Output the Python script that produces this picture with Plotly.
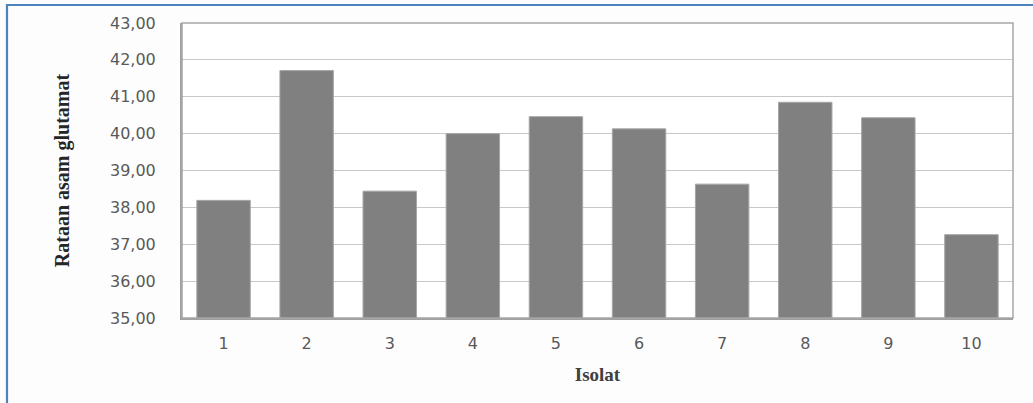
import plotly.graph_objects as go

categories = ["1", "2", "3", "4", "5", "6", "7", "8", "9", "10"]
values = [38.19, 41.71, 38.44, 40.00, 40.46, 40.13, 38.63, 40.85, 40.43, 37.26]
y_ticks = [35, 36, 37, 38, 39, 40, 41, 42, 43]
y_tick_labels = ["35,00", "36,00", "37,00", "38,00", "39,00", "40,00", "41,00", "42,00", "43,00"]

W, H = 1033, 403
L, R, T, B = 182, 20, 23, 85
pw, ph = W - L - R, H - T - B

def px(x):
    return (x - L) / pw

def py(y):
    return (H - B - y) / ph

fig = go.Figure(
    go.Bar(
        x=categories,
        y=values,
        marker=dict(color="#808080", line=dict(color="#a6a6a6", width=1)),
    )
)

fig.update_layout(
    width=W,
    height=H,
    margin=dict(l=L, r=R, t=T, b=B, autoexpand=False),
    paper_bgcolor="#fdfdfd",
    plot_bgcolor="#ffffff",
    bargap=0.357,
    showlegend=False,
    shapes=[
        dict(
            type="rect", xref="paper", yref="paper",
            x0=px(7), x1=px(1045), y0=py(5), y1=py(420),
            line=dict(color="#4f81bd", width=2.2), layer="below",
        ),
        dict(
            type="rect", xref="paper", yref="paper",
            x0=0, x1=1, y0=0, y1=1,
            line=dict(color="#a6a6a6", width=1.5), layer="above",
        ),
    ],
)

fig.update_xaxes(
    type="category",
    tickfont=dict(family="DejaVu Sans", size=16, color="#595959"),
    ticks="",
    ticklabelstandoff=10,
    showline=True, linecolor="#a0a0a0", linewidth=2,
    title=dict(
        text="<b>Isolat</b>",
        font=dict(family="Liberation Serif", size=19, color="#404040"),
        standoff=15,
    ),
)

fig.update_yaxes(
    range=[35, 43],
    tickvals=y_ticks,
    ticktext=y_tick_labels,
    tickfont=dict(family="DejaVu Sans", size=16, color="#595959"),
    ticks="",
    ticklabelstandoff=21,
    showgrid=True, gridcolor="#c8c8c8", gridwidth=1,
    showline=True, linecolor="#a0a0a0", linewidth=2,
    zeroline=False,
    title=dict(
        text="<b>Rataan asam glutamat</b>",
        font=dict(family="Liberation Serif", size=20, color="#262626"),
        standoff=35,
    ),
)

fig.write_html(
    "out.html",
    config={"displayModeBar": False},
    post_script="document.body.style.margin='0';document.body.style.overflow='hidden';",
)
